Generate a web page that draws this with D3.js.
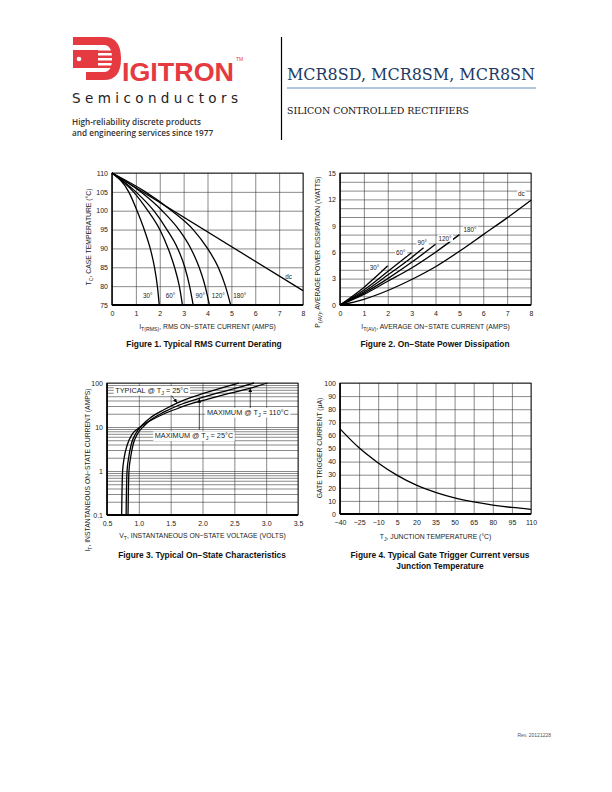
<!DOCTYPE html>
<html>
<head>
<meta charset="utf-8">
<script src="https://cdn.jsdelivr.net/npm/d3@7"></script>
<style>
  body { margin: 0; background: #fff; }
  svg { display: block; }
  .sans { font-family: "Liberation Sans", Arial, sans-serif; }
</style>
</head>
<body>
<div id="wrapper"></div>
<script>
// ---------- data ----------
// Figure 1: case temperature vs RMS current
const fig1XTicks = [0, 1, 2, 3, 4, 5, 6, 7, 8];
const fig1YTicks = [75, 80, 85, 90, 95, 100, 105, 110];
const fig1Dc = [[0, 110], [8, 78.8]];
const fig1Deg30 = [[0, 110], [0.7, 105], [1.05, 100], [1.35, 95], [1.6, 90], [1.78, 85], [1.9, 80], [1.98, 75]];
const fig1Deg60 = [[0, 110], [0.9, 105], [1.5, 100], [2.0, 95], [2.35, 90], [2.62, 85], [2.82, 80], [2.95, 75]];
const fig1Deg90 = [[0, 110], [1.0, 105], [1.75, 100], [2.3, 95], [2.75, 90], [3.05, 85], [3.25, 80], [3.4, 75]];
const fig1Deg120 = [[0, 110], [1.2, 105], [2.1, 100], [2.8, 95], [3.3, 90], [3.65, 85], [3.9, 80], [4.08, 75]];
const fig1Deg180 = [[0, 110], [1.4, 105], [2.5, 100], [3.4, 95], [4.0, 90], [4.45, 85], [4.75, 80], [4.97, 75]];
const fig1Labels = [["30°", 1.5, 77.5], ["60°", 2.45, 77.5], ["90°", 3.7, 77.5], ["120°", 4.45, 77.5], ["180°", 5.35, 77.5], ["dc", 7.4, 82.6]];

// Figure 2: power dissipation vs average current
const fig2XTicks = [0, 1, 2, 3, 4, 5, 6, 7, 8];
const fig2YTicks = [0, 3, 6, 9, 12, 15];
const fig2YGrid = d3.range(0, 16);
const fig2Dc = [[0, 0], [1, 0.65], [2, 1.65], [3, 2.9], [4, 4.35], [5, 6.1], [6, 8.0], [7, 9.9], [8, 11.9]];
const fig2Deg180 = [[0, 0], [1, 1.2], [2, 2.7], [3, 4.2], [4, 6.0], [5, 8.0]];
const fig2Deg120 = [[0, 0], [1, 1.35], [2, 3.0], [3, 4.85], [4, 6.9]];
const fig2Deg90 = [[0, 0], [1, 1.5], [2, 3.4], [3, 5.4], [3.5, 6.5]];
const fig2Deg60 = [[0, 0], [1, 1.7], [2, 3.8], [3, 5.95]];
const fig2Deg30 = [[0, 0], [1, 2.0], [2, 4.45]];
const fig2Labels = [["30°", 1.45, 4.2], ["60°", 2.55, 5.95], ["90°", 3.45, 7.1], ["120°", 4.4, 7.55], ["180°", 5.45, 8.5], ["dc", 7.6, 12.6]];

// Figure 3: on-state characteristics (log current)
const fig3XTicks = [0.5, 1.0, 1.5, 2.0, 2.5, 3.0, 3.5];
const fig3XLabels = ["0.5", "1.0", "1.5", "2.0", "2.5", "3.0", "3.5"];
const fig3YTicks = [0.1, 1, 10, 100];
const fig3YLabels = ["0.1", "1", "10", "100"];
const fig3YGrid = [0.1, 0.2, 0.3, 0.4, 0.5, 0.6, 0.7, 0.8, 0.9, 1, 2, 3, 4, 5, 6, 7, 8, 9, 10, 20, 30, 40, 50, 60, 70, 80, 90, 100];
const fig3Typ25 = [[0.80, 0.1], [0.805, 0.3], [0.815, 1], [0.84, 2], [0.88, 4], [0.95, 7], [1.05, 11], [1.2, 17], [1.4, 25], [1.6, 35], [1.8, 46], [2.0, 57], [2.2, 70], [2.4, 85], [2.57, 100]];
const fig3Max25 = [[0.83, 0.1], [0.835, 0.3], [0.845, 1], [0.87, 2], [0.91, 4], [0.98, 7], [1.08, 10.5], [1.2, 15], [1.4, 22], [1.6, 30], [1.8, 38], [2.0, 47], [2.2, 57], [2.4, 68], [2.6, 82], [2.81, 100]];
const fig3Max110 = [[0.73, 0.1], [0.735, 0.3], [0.745, 1], [0.77, 2], [0.82, 4], [0.9, 7], [1.0, 9.5], [1.1, 12], [1.2, 14.5], [1.4, 20], [1.6, 26], [1.8, 33], [2.0, 40], [2.2, 48], [2.4, 57], [2.6, 67], [2.8, 80], [3.02, 100]];

// Figure 4: gate trigger current vs junction temperature
const fig4XTicks = [-40, -25, -10, 5, 20, 35, 50, 65, 80, 95, 110];
const fig4XLabels = ["−40", "−25", "−10", "5", "20", "35", "50", "65", "80", "95", "110"];
const fig4YTicks = [0, 10, 20, 30, 40, 50, 60, 70, 80, 90, 100];
const fig4Igt = [[-40, 65], [-25, 50.5], [-10, 39], [5, 29.5], [20, 22], [35, 16.5], [50, 12.3], [65, 9.2], [80, 6.8], [95, 5.0], [110, 3.6]];

// ---------- page ----------
const svg = d3.select("#wrapper").append("svg")
  .attr("width", 612).attr("height", 792)
  .attr("viewBox", "0 0 612 792");

const defs = svg.append("defs");
defs.append("marker")
  .attr("id", "arrow")
  .attr("viewBox", "0 0 6 6")
  .attr("refX", 6).attr("refY", 3)
  .attr("markerWidth", 4).attr("markerHeight", 4)
  .attr("markerUnits", "userSpaceOnUse")
  .attr("orient", "auto")
  .append("path").attr("d", "M0,0 L6,3 L0,6 Z").attr("fill", "#000");

// text with subscripts: parts = [[text, isSub], ...]
function richText(sel, parts, subSize) {
  parts.forEach(([t, sub], i) => {
    const prevSub = i > 0 && parts[i - 1][1];
    const ts = sel.append("tspan").text(t);
    if (sub) ts.attr("dy", 1.6).attr("font-size", subSize);
    else if (prevSub) ts.attr("dy", -1.6);
  });
  return sel;
}

// ---------- header ----------
const red = "#e63a41";
const logo = svg.append("g");
// stylised D
logo.append("path").attr("fill", red)
  .attr("d", "M73,37 L104,37 Q121,37 121,58.5 Q121,80 104,80 L86,80 L86,72 L104,72 Q112,72 112,58.5 Q112,45 104,45 L73,45 Z");
logo.append("rect").attr("fill", red).attr("x", 73).attr("y", 50).attr("width", 25).attr("height", 18);
logo.selectAll(".stripe").data([50.5, 55.5, 60.5, 65.5]).join("rect")
  .attr("fill", red).attr("x", 97).attr("y", d => d).attr("width", 16).attr("height", 2.5);
logo.append("circle").attr("fill", "#fff").attr("cx", 79).attr("cy", 59).attr("r", 2.3);
logo.append("text").attr("x", 122).attr("y", 80.5)
  .attr("font-family", "Liberation Sans, Arial, sans-serif").attr("font-weight", "bold")
  .attr("font-size", 26.5).attr("fill", red)
  .attr("textLength", 112).attr("lengthAdjust", "spacingAndGlyphs")
  .text("IGITRON");
logo.append("text").attr("x", 236).attr("y", 61)
  .attr("font-family", "Liberation Sans, Arial, sans-serif").attr("font-size", 5).attr("fill", red)
  .text("TM");
logo.append("text").attr("x", 72).attr("y", 102.5)
  .attr("font-family", "DejaVu Sans, sans-serif").attr("font-size", 13.5).attr("fill", "#222")
  .attr("textLength", 166).attr("lengthAdjust", "spacing")
  .text("Semiconductors");

svg.append("text").attr("x", 72).attr("y", 124.5)
  .attr("font-family", "Open Sans, sans-serif").attr("font-weight", 600).attr("font-size", 8.2).attr("fill", "#333")
  .text("High-reliability discrete products");
svg.append("text").attr("x", 72).attr("y", 136)
  .attr("font-family", "Open Sans, sans-serif").attr("font-weight", 600).attr("font-size", 8.2).attr("fill", "#333")
  .text("and engineering services since 1977");

svg.append("line").attr("x1", 281.5).attr("x2", 281.5).attr("y1", 37).attr("y2", 140)
  .attr("stroke", "#000").attr("stroke-width", 1.2);

svg.append("text").attr("x", 287).attr("y", 80)
  .attr("font-family", "DejaVu Serif, serif").attr("font-size", 16).attr("fill", "#1f3a64")
  .attr("textLength", 248).attr("lengthAdjust", "spacingAndGlyphs")
  .text("MCR8SD, MCR8SM, MCR8SN");
svg.append("line").attr("x1", 287).attr("x2", 536).attr("y1", 88).attr("y2", 88)
  .attr("stroke", "#4f81bd").attr("stroke-width", 0.9);
svg.append("text").attr("x", 287).attr("y", 113.5)
  .attr("font-family", "DejaVu Serif, serif").attr("font-size", 9.8).attr("fill", "#111")
  .attr("textLength", 182).attr("lengthAdjust", "spacingAndGlyphs")
  .text("SILICON CONTROLLED RECTIFIERS");

svg.append("text").attr("x", 551).attr("y", 737).attr("text-anchor", "end")
  .attr("font-family", "Liberation Sans, Arial, sans-serif").attr("font-size", 5).attr("fill", "#555")
  .text("Rev. 20121228");

// ---------- chart panels ----------
function drawPanel(p) {
  const g = svg.append("g").attr("class", "sans");
  const [x0, x1] = p.x.range();
  const [y0, y1] = p.y.range(); // y0 bottom, y1 top

  // gridlines
  g.append("g").attr("transform", `translate(0,${y0})`)
    .call(d3.axisBottom(p.x).tickValues(p.xGrid).tickSize(-(y0 - y1)).tickFormat(""))
    .call(a => a.select(".domain").remove())
    .call(a => a.selectAll("line").attr("stroke", "#3a3a3a").attr("stroke-width", 0.6));
  g.append("g").attr("transform", `translate(${x0},0)`)
    .call(d3.axisLeft(p.y).tickValues(p.yGrid).tickSize(-(x1 - x0)).tickFormat(""))
    .call(a => a.select(".domain").remove())
    .call(a => a.selectAll("line").attr("stroke", "#3a3a3a").attr("stroke-width", 0.6));

  // tick labels
  const xa = g.append("g").attr("transform", `translate(0,${y0})`)
    .call(d3.axisBottom(p.x).tickValues(p.xTicks).tickSize(0).tickPadding(6)
      .tickFormat((d, i) => p.xLabels ? p.xLabels[i] : d));
  const ya = g.append("g").attr("transform", `translate(${x0},0)`)
    .call(d3.axisLeft(p.y).tickValues(p.yTicks).tickSize(0).tickPadding(4)
      .tickFormat((d, i) => p.yLabels ? p.yLabels[i] : d));
  [xa, ya].forEach(a => {
    a.select(".domain").remove();
    a.attr("font-family", null).attr("font-size", null);
    a.selectAll("text").attr("font-size", 7).attr("fill", "#222");
  });

  // frame
  g.append("rect").attr("x", x0).attr("y", y1).attr("width", x1 - x0).attr("height", y0 - y1)
    .attr("fill", "none").attr("stroke", "#000").attr("stroke-width", 0.8);
  g.append("line").attr("x1", x0).attr("x2", x1).attr("y1", y0).attr("y2", y0)
    .attr("stroke", "#000").attr("stroke-width", 1.8);
  g.append("line").attr("x1", x0).attr("x2", x0).attr("y1", y1).attr("y2", y0)
    .attr("stroke", "#000").attr("stroke-width", p.leftWidth || 1.2);

  // curves
  const line = d3.line().x(d => p.x(d[0])).y(d => p.y(d[1])).curve(d3.curveMonotoneX);
  g.selectAll(".curve").data(p.series).join("path")
    .attr("class", "curve")
    .attr("d", line)
    .attr("fill", "none").attr("stroke", "#000").attr("stroke-width", 1.3);

  // axis titles
  richText(g.append("text")
    .attr("x", (x0 + x1) / 2).attr("y", p.xTitleY).attr("text-anchor", "middle")
    .attr("font-size", 6.8).attr("fill", "#222"), p.xTitle, 5.2);
  richText(g.append("text")
    .attr("transform", `translate(${p.yTitleX},${p.yTitleMid}) rotate(-90)`).attr("text-anchor", "middle")
    .attr("font-size", 6.8).attr("fill", "#222"), p.yTitle, 5.2);

  // captions
  p.caption.forEach((c, i) => {
    g.append("text").attr("x", p.captionX).attr("y", p.captionY + i * 11)
      .attr("text-anchor", "middle").attr("font-weight", "bold").attr("font-size", 8.4).attr("fill", "#111")
      .text(c);
  });
  return g;
}

// label with white box behind it
function boxedLabel(g, x, y, parts, size, pad) {
  const t = richText(g.append("text").attr("x", x).attr("y", y)
    .attr("font-size", size).attr("fill", "#222").attr("dy", "0.35em"), parts, size * 0.75);
  const b = t.node().getBBox();
  g.insert("rect", () => t.node())
    .attr("x", b.x - pad).attr("y", b.y).attr("width", b.width + 2 * pad).attr("height", b.height)
    .attr("fill", "#fff");
  return t;
}

// Figure 1
const p1 = {
  x: d3.scaleLinear([0, 8], [112, 303]),
  y: d3.scaleLinear([75, 110], [305, 173]),
  xGrid: fig1XTicks, yGrid: fig1YTicks, xTicks: fig1XTicks, yTicks: fig1YTicks,
  series: [fig1Dc, fig1Deg30, fig1Deg60, fig1Deg90, fig1Deg120, fig1Deg180],
  xTitle: [["I", false], ["T(RMS)", true], [", RMS ON−STATE CURRENT (AMPS)", false]], xTitleY: 329,
  yTitle: [["T", false], ["C", true], [", CASE TEMPERATURE (°C)", false]], yTitleX: 91, yTitleMid: 237,
  caption: ["Figure 1. Typical RMS Current Derating"], captionX: 204, captionY: 347
};
const g1 = drawPanel(p1);
fig1Labels.forEach(([t, lx, ly]) => {
  g1.append("text").attr("x", p1.x(lx)).attr("y", p1.y(ly)).attr("dy", "0.35em")
    .attr("text-anchor", "middle").attr("font-size", 6.3).attr("fill", "#222").text(t);
});

// Figure 2
const p2 = {
  x: d3.scaleLinear([0, 8], [340, 531]),
  y: d3.scaleLinear([0, 15], [305, 173]),
  xGrid: fig2XTicks, yGrid: fig2YGrid, xTicks: fig2XTicks, yTicks: fig2YTicks,
  series: [fig2Dc, fig2Deg180, fig2Deg120, fig2Deg90, fig2Deg60, fig2Deg30],
  xTitle: [["I", false], ["T(AV)", true], [", AVERAGE ON−STATE CURRENT (AMPS)", false]], xTitleY: 329,
  yTitle: [["P", false], ["(AV)", true], [", AVERAGE POWER DISSIPATION (WATTS)", false]], yTitleX: 320, yTitleMid: 252,
  caption: ["Figure 2. On−State Power Dissipation"], captionX: 435, captionY: 347
};
const g2 = drawPanel(p2);
fig2Labels.forEach(([t, lx, ly]) => {
  const tx = boxedLabel(g2, p2.x(lx), p2.y(ly), [[t, false]], 6.3, 1);
  tx.attr("text-anchor", "middle");
  const b = tx.node().getBBox();
  tx.node().previousSibling.setAttribute("x", b.x - 1);
});

// Figure 3
const p3 = {
  x: d3.scaleLinear([0.5, 3.5], [107, 298]),
  y: d3.scaleLog([0.1, 100], [515, 383]),
  xGrid: fig3XTicks, yGrid: fig3YGrid, xTicks: fig3XTicks, yTicks: fig3YTicks,
  xLabels: fig3XLabels, yLabels: fig3YLabels, leftWidth: 1.6,
  series: [fig3Typ25, fig3Max25, fig3Max110],
  xTitle: [["V", false], ["T", true], [", INSTANTANEOUS ON−STATE VOLTAGE (VOLTS)", false]], xTitleY: 538,
  yTitle: [["I", false], ["T", true], [", INSTANTANEOUS ON−STATE CURRENT (AMPS)", false]], yTitleX: 90, yTitleMid: 470,
  caption: ["Figure 3. Typical On−State Characteristics"], captionX: 202, captionY: 558
};
const g3 = drawPanel(p3);
// leaders
const leaders3 = [[[1.5, 55], [1.6, 35.5]], [[1.95, 8.6], [1.95, 44]], [[2.75, 27], [2.75, 76]]];
g3.selectAll(".leader").data(leaders3).join("line")
  .attr("x1", d => p3.x(d[0][0])).attr("y1", d => p3.y(d[0][1]))
  .attr("x2", d => p3.x(d[1][0])).attr("y2", d => p3.y(d[1][1]))
  .attr("stroke", "#000").attr("stroke-width", 0.7).attr("marker-end", "url(#arrow)");
boxedLabel(g3, p3.x(0.63), p3.y(68), [["TYPICAL @ T", false], ["J", true], [" = 25°C", false]], 7.3, 1.5);
boxedLabel(g3, p3.x(2.07), p3.y(21.5), [["MAXIMUM @ T", false], ["J", true], [" = 110°C", false]], 7.3, 1.5);
boxedLabel(g3, p3.x(1.25), p3.y(6.3), [["MAXIMUM @ T", false], ["J", true], [" = 25°C", false]], 7.3, 1.5);

// Figure 4
const p4 = {
  x: d3.scaleLinear([-40, 110], [340, 531]),
  y: d3.scaleLinear([0, 100], [514, 383]),
  xGrid: fig4XTicks, yGrid: fig4YTicks, xTicks: fig4XTicks, yTicks: fig4YTicks,
  xLabels: fig4XLabels, leftWidth: 1.6,
  series: [fig4Igt],
  xTitle: [["T", false], ["J", true], [", JUNCTION TEMPERATURE (°C)", false]], xTitleY: 539,
  yTitle: [["GATE TRIGGER CURRENT (μA)", false]], yTitleX: 322, yTitleMid: 448,
  caption: ["Figure 4. Typical Gate Trigger Current versus", "Junction Temperature"], captionX: 440, captionY: 558
};
drawPanel(p4);
</script>
</body>
</html>
